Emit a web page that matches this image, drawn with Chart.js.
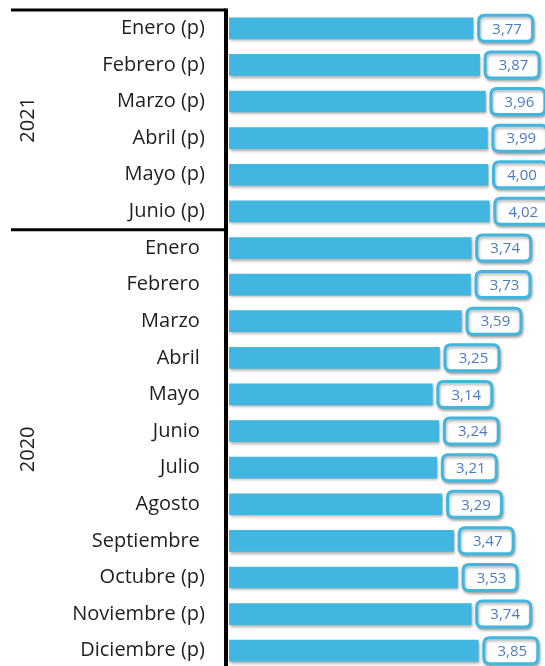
<!DOCTYPE html>
<html>
<head>
<meta charset="utf-8">
<script src="https://cdn.jsdelivr.net/npm/chart.js@4"></script>
<style>
  html, body { margin: 0; padding: 0; background: #fff; overflow: hidden; }
  #wrap { position: relative; width: 545px; height: 669px; }
</style>
</head>
<body>
<div id="wrap"><canvas id="tasaChart"></canvas></div>
<script>
// datos
const categorias = ['Enero (p)', 'Febrero (p)', 'Marzo (p)', 'Abril (p)', 'Mayo (p)', 'Junio (p)',
    'Enero', 'Febrero', 'Marzo', 'Abril', 'Mayo', 'Junio', 'Julio', 'Agosto', 'Septiembre',
    'Octubre (p)', 'Noviembre (p)', 'Diciembre (p)'];
const valores = [3.77, 3.87, 3.96, 3.99, 4.00, 4.02,
    3.74, 3.73, 3.59, 3.25, 3.14, 3.24, 3.21, 3.29, 3.47, 3.53, 3.74, 3.85];
const anios = ['2021', '2020'];
const inicioGrupo = [0, 6];   // indice de la primera categoria de cada año
const finGrupo = [5, 17];

const azul = '#41b6e0';
const fuente = '"Open Sans", "DejaVu Sans", sans-serif';

function formatoValor(v) {
    return v.toFixed(2).replace('.', ',');
}

function roundRect(ctx, x, y, w, h, r) {
    ctx.beginPath();
    ctx.moveTo(x + r, y);
    ctx.lineTo(x + w - r, y);
    ctx.quadraticCurveTo(x + w, y, x + w, y + r);
    ctx.lineTo(x + w, y + h - r);
    ctx.quadraticCurveTo(x + w, y + h, x + w - r, y + h);
    ctx.lineTo(x + r, y + h);
    ctx.quadraticCurveTo(x, y + h, x, y + h - r);
    ctx.lineTo(x, y + r);
    ctx.quadraticCurveTo(x, y, x + r, y);
    ctx.closePath();
}

// lineas de los grupos, sombra de barras y cajas de valores
const decoracion = {
    id: 'decoracion',
    beforeDatasetsDraw(chart) {
        const ctx = chart.ctx;
        const area = chart.chartArea;
        const yScale = chart.scales.y;
        ctx.save();
        ctx.strokeStyle = '#000';
        ctx.lineWidth = 4;
        ctx.beginPath();
        ctx.moveTo(area.left - 3, area.top - 1.5);
        ctx.lineTo(area.left - 3, area.bottom);
        ctx.stroke();
        ctx.lineWidth = 3;
        for (let g = 0; g < anios.length; g++) {
            const yTop = g === 0 ? area.top : (yScale.getPixelForValue(inicioGrupo[g]) + yScale.getPixelForValue(inicioGrupo[g] - 1)) / 2;
            ctx.beginPath();
            ctx.moveTo(11, yTop);
            ctx.lineTo(area.left - 3, yTop);
            ctx.stroke();

            const yBottom = g === anios.length - 1 ? area.bottom : (yScale.getPixelForValue(finGrupo[g]) + yScale.getPixelForValue(finGrupo[g] + 1)) / 2;
            ctx.save();
            ctx.translate(28, (yTop + yBottom) / 2);
            ctx.rotate(-Math.PI / 2);
            ctx.fillStyle = '#1e1e1e';
            ctx.font = '20px ' + fuente;
            ctx.textAlign = 'center';
            ctx.textBaseline = 'middle';
            ctx.fillText(anios[g], 0, 0);
            ctx.restore();
        }
        ctx.restore();

        ctx.save();
        ctx.shadowColor = 'rgba(0, 0, 0, 0.35)';
        ctx.shadowOffsetX = 1;
        ctx.shadowOffsetY = 2;
        ctx.shadowBlur = 3;
    },
    afterDatasetsDraw(chart) {
        const ctx = chart.ctx;
        ctx.restore();
        const meta = chart.getDatasetMeta(0);
        meta.data.forEach((bar, i) => {
            const bx = bar.x + 4;
            const by = bar.y - 14.5;
            ctx.save();
            ctx.shadowColor = 'rgba(0, 0, 0, 0.3)';
            ctx.shadowOffsetX = 1;
            ctx.shadowOffsetY = 2;
            ctx.shadowBlur = 3;
            roundRect(ctx, bx + 1.5, by + 1.5, 54, 26, 6);
            ctx.fillStyle = '#fff';
            ctx.fill();
            ctx.lineWidth = 3;
            ctx.strokeStyle = azul;
            ctx.stroke();
            ctx.restore();
            ctx.fillStyle = '#4a7cc4';
            ctx.font = '15px ' + fuente;
            ctx.textAlign = 'center';
            ctx.textBaseline = 'middle';
            ctx.fillText(formatoValor(valores[i]), bx + 30, bar.y + 1);
        });
    }
};

new Chart(document.getElementById('tasaChart'), {
    type: 'bar',
    data: {
        labels: categorias,
        datasets: [{
            data: valores,
            backgroundColor: azul,
            borderWidth: 0,
            barThickness: 21
        }]
    },
    options: {
        indexAxis: 'y',
        responsive: true,
        maintainAspectRatio: false,
        animation: false,
        layout: { padding: { top: 10, left: 0, right: 0, bottom: 0 } },
        plugins: {
            legend: { display: false },
            tooltip: { enabled: false }
        },
        scales: {
            x: {
                display: false,
                min: 0,
                max: 4.88
            },
            y: {
                afterFit: function(scale) {
                    scale.width = 229;
                    scale.paddingTop = 0;
                    scale.paddingBottom = 0;
                },
                grid: { display: false, drawTicks: false },
                border: { display: false },
                ticks: {
                    padding: 24,
                    color: '#1e1e1e',
                    font: { family: fuente, size: 20 },
                    callback: function(value) {
                        const txt = this.getLabelForValue(value);
                        return txt.indexOf('(p)') >= 0 ? txt : txt + ' ';
                    }
                }
            }
        }
    },
    plugins: [decoracion]
});
</script>
</body>
</html>
